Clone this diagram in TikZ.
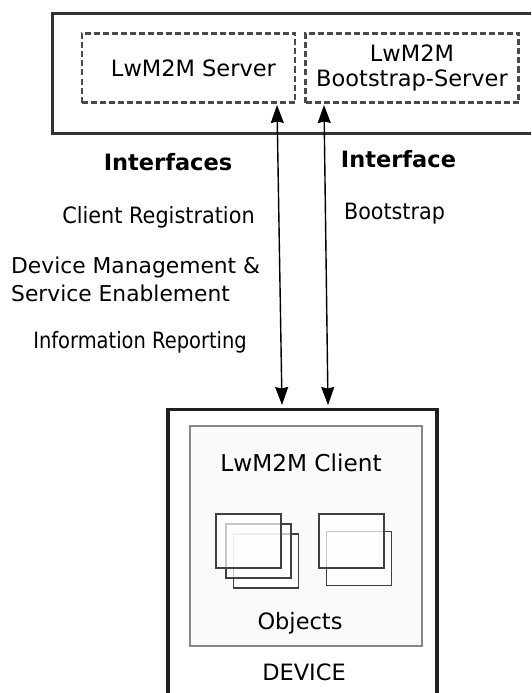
\documentclass[tikz,border=0pt]{standalone}
\usepackage{fontspec}
\setmainfont{DejaVu Sans}
\usetikzlibrary{arrows.meta}
\definecolor{frame}{HTML}{333333}
\definecolor{dashgray}{HTML}{4A4A4A}
\definecolor{clientgray}{HTML}{888888}
\definecolor{objgray}{HTML}{404040}
\tikzset{
  txt/.style={font=\fontsize{22.5}{27}\selectfont, inner sep=0pt},
  smtxt/.style={font=\fontsize{21.8}{27}\selectfont, inner sep=0pt},
  btxt/.style={font=\fontsize{22.5}{27}\selectfont\bfseries, inner sep=0pt},
  outerbox/.style={draw=frame, line width=3pt, fill=white, inner sep=0pt},
  dashbox/.style={draw=dashgray, line width=2.3pt, dash pattern=on 6pt off 3pt, fill=white,
    inner sep=0pt, align=center, font=\fontsize{22.5}{27}\selectfont},
  clientbox/.style={draw=clientgray, line width=2pt, fill=black!2, inner sep=0pt},
  objbox/.style={draw=objgray, line width=1.7pt, fill=white, fill opacity=0.7,
    minimum width=65pt, minimum height=54pt, inner sep=0pt},
  link/.style={line width=1.4pt, {Stealth[length=18pt,width=13pt,inset=1.5pt]}-{Stealth[length=18pt,width=13pt,inset=1.5pt]}},
}
\begin{document}
\begin{tikzpicture}[x=1pt,y=-1pt]
\clip (0,0) rectangle (531,693);
\fill[white] (0,0) rectangle (531,693);
% top server frame
\node[outerbox, minimum width=492pt, minimum height=120pt] (servers) at (298.5,73.5) {};
\node[dashbox, minimum width=213pt, minimum height=69pt] (srv) at (188.5,68) {\hspace*{10pt}LwM2M Server};
\node[dashbox, minimum width=213pt, minimum height=69pt] (bs) at (412,68) {LwM2M\\[-2pt]Bootstrap-Server};
% device
\node[outerbox, line width=3.5pt, draw=black!88, minimum width=269pt, minimum height=320pt] (device) at (302.5,569.5) {};
\node[clientbox, minimum width=232pt, minimum height=220pt] (client) at (306,536) {};
\node[txt, font=\fontsize{23.2}{27}\selectfont, anchor=base] (clientlbl) at (301,471) {LwM2M Client};
\node[txt, anchor=base] (objlbl) at (300,629) {Objects};
\node[txt, anchor=base] (devlbl) at (304,680) {DEVICE};
% objects
\node[objbox] (o13) at (266,561) {};
\node[objbox] (o12) at (258.5,551) {};
\node[objbox] (o11) at (248.5,541) {};
\node[objbox] (o22) at (359,558.5) {};
\node[objbox] (o21) at (351.5,541) {};
% interfaces text
\node[btxt, anchor=base] (ifl) at (168,170) {Interfaces};
\node[txt, anchor=base] (creg) at (158.5,223) {\scalebox{0.925}[1]{Client Registration}};
\node[smtxt, anchor=base west] (dm) at (11,273) {Device Management \&};
\node[smtxt, anchor=base west] (se) at (11,301) {Service Enablement};
\node[txt, anchor=base] (info) at (140,348) {\scalebox{0.865}[1]{Information Reporting}};
\node[btxt, anchor=base] (ifr) at (398.5,167) {Interface};
\node[txt, anchor=base] (boot) at (394.5,219) {\scalebox{0.92}[1]{Bootstrap}};
% arrows
\coordinate (a1t) at (277,105);
\coordinate (a1b) at (282,405);
\coordinate (a2t) at (324,105);
\coordinate (a2b) at (328,405);
\draw[link] (a1t) -- (a1b);
\draw[link] (a2t) -- (a2b);
\end{tikzpicture}
\end{document}
